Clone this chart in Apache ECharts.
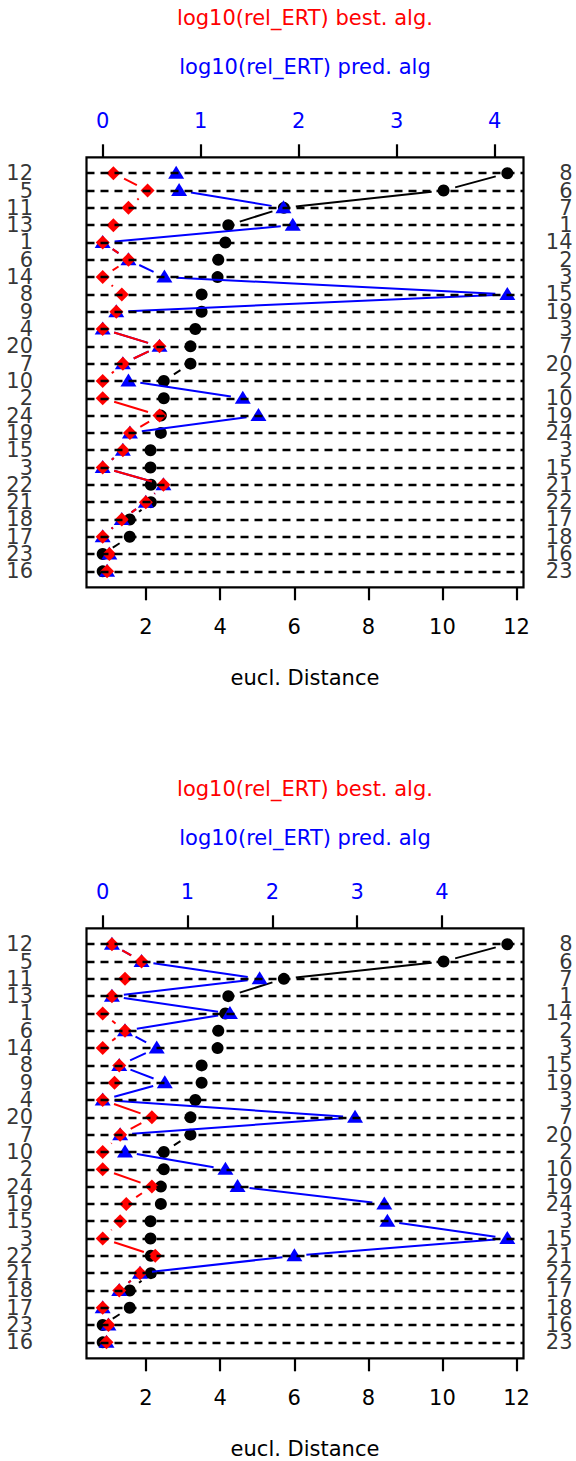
<!DOCTYPE html>
<html>
<head>
<meta charset="utf-8">
<script src="https://cdn.jsdelivr.net/npm/echarts@6/dist/echarts.min.js"></script>
<style>
html,body{margin:0;padding:0;background:#fff;}
#chart{width:576px;height:1461px;}
</style>
</head>
<body>
<div id="chart"></div>
<script>
// ---- data ----
const rowLabelsLeft  = ['12','5','11','13','1','6','14','8','9','4','20','7','10','2','24','19','15','3','22','21','18','17','23','16'];
const rowLabelsRight = ['8','6','7','1','14','2','3','15','19','3','7','20','2','10','19','24','3','15','21','22','17','18','16','23'];
const euclDist = [11.75, 10.03, 5.72, 4.22, 4.14, 3.95, 3.93, 3.50, 3.50, 3.33, 3.20, 3.20, 2.48, 2.48, 2.40, 2.40, 2.12, 2.12, 2.13, 2.13, 1.56, 1.56, 0.83, 0.83];
const bestAlg  = [0.109, 0.458, 0.263, 0.109, 0, 0.263, 0, 0.195, 0.139, 0, 0.58, 0.206, 0, 0, 0.58, 0.278, 0.206, 0, 0.62, 0.44, 0.195, 0, 0.068, 0.045];
const predAlg1 = [0.75, 0.78, 1.845, 1.94, 0, 0.263, 0.63, 4.13, 0.139, 0, 0.58, 0.206, 0.263, 1.43, 1.59, 0.278, 0.206, 0, 0.62, 0.44, 0.195, 0, 0.068, 0.045];
const predAlg2 = [0.109, 0.458, 1.85, 0.109, 1.50, 0.263, 0.637, 0.195, 0.732, 0, 2.975, 0.206, 0.263, 1.447, 1.59, 3.32, 3.356, 4.77, 2.26, 0.44, 0.195, 0, 0.068, 0.045];
const bottomTicks = [2, 4, 6, 8, 10, 12];
const topTicks = [0, 1, 2, 3, 4];
const titleBest = 'log10(rel_ERT) best. alg.';
const titlePred = 'log10(rel_ERT) pred. alg';
const xAxisTitle = 'eucl. Distance';

// ---- layout ----
const FONT = 'DejaVu Sans';
const FS = 21;
const GAP = 12;
const BOX_LEFT = 86.5, BOX_W = 437, BOX_H = 430;
const panelTops = [157.3, 928.3];
const nRows = rowLabelsLeft.length;
const rowIdx = rowLabelsLeft.map((_, i) => i + 1);

function ext(arrs) {
  const all = [].concat(...arrs);
  const lo = Math.min(...all), hi = Math.max(...all);
  const s = hi - lo;
  return { min: lo - 0.04 * s, max: hi + 0.04 * s };
}

const yExt = { min: 1 - 0.04 * (nRows - 1), max: nRows + 0.04 * (nRows - 1) };
const xBotExt = ext([euclDist]);

function segs(xs) {
  const out = [];
  for (let i = 0; i < xs.length - 1; i++) out.push([xs[i], i + 1, xs[i + 1], i + 2]);
  return out;
}
function pts(xs) { return xs.map((v, i) => [v, i + 1]); }

function gapLine(color) {
  return function (params, api) {
    const p1 = api.coord([api.value(0), api.value(1)]);
    const p2 = api.coord([api.value(2), api.value(3)]);
    const dx = p2[0] - p1[0], dy = p2[1] - p1[1];
    const L = Math.sqrt(dx * dx + dy * dy);
    if (L <= 2 * GAP) return null;
    const ux = dx / L, uy = dy / L;
    return {
      type: 'line',
      shape: { x1: p1[0] + ux * GAP, y1: p1[1] + uy * GAP, x2: p2[0] - ux * GAP, y2: p2[1] - uy * GAP },
      style: { stroke: color, lineWidth: 2 }
    };
  };
}

const grids = [], xAxes = [], yAxes = [], series = [], graphics = [];
const panels = [predAlg1, predAlg2];

panels.forEach((pred, p) => {
  const top = panelTops[p];
  grids.push({ left: BOX_LEFT, top: top, width: BOX_W, height: BOX_H, show: true, borderColor: '#000', borderWidth: 2.2, backgroundColor: 'transparent' });
  const xTopExt = ext([bestAlg, pred]);
  const xb = xAxes.length;
  xAxes.push({
    type: 'value', gridIndex: p, position: 'bottom', min: xBotExt.min, max: xBotExt.max,
    axisLine: { show: false }, splitLine: { show: false },
    axisTick: { show: true, length: 13, lineStyle: { color: '#000', width: 2.2 }, customValues: bottomTicks },
    axisLabel: { show: true, customValues: bottomTicks, margin: 29, color: '#000', fontFamily: FONT, fontSize: FS, formatter: v => String(v) }
  });
  xAxes.push({
    type: 'value', gridIndex: p, position: 'top', min: xTopExt.min, max: xTopExt.max,
    axisLine: { show: false }, splitLine: { show: false },
    axisTick: { show: true, length: 13, lineStyle: { color: '#000', width: 2.2 }, customValues: topTicks },
    axisLabel: { show: true, customValues: topTicks, margin: 26, color: '#0000FF', fontFamily: FONT, fontSize: FS, formatter: v => String(v) }
  });
  const yl = yAxes.length;
  const yCommon = {
    type: 'value', gridIndex: p, inverse: true, min: yExt.min, max: yExt.max,
    axisLine: { show: false }, splitLine: { show: false }, axisTick: { show: false }, axisLabel: { show: false }
  };
  yAxes.push(Object.assign({}, yCommon, { position: 'left' }));
  yAxes.push(Object.assign({}, yCommon, { position: 'right' }));
  // dashed row lines
  series.push({
    type: 'scatter', xAxisIndex: xb, yAxisIndex: yl, data: [], z: 1, silent: true,
    markLine: {
      silent: true, symbol: ['none', 'none'], animation: false,
      label: { show: false },
      lineStyle: { color: '#000', width: 2.3, type: [8, 6] },
      emphasis: { disabled: true },
      data: rowIdx.map(r => ({ yAxis: r }))
    }
  });
  // row labels (left and right of the box)
  series.push({
    type: 'scatter', xAxisIndex: xb, yAxisIndex: yl, silent: true, symbolSize: 0, clip: false, z: 1,
    data: rowIdx.map(r => [xBotExt.min, r]),
    label: { show: true, position: 'left', distance: 53.5, align: 'right', verticalAlign: 'middle',
      color: '#000', fontFamily: FONT, fontSize: FS, formatter: q => rowLabelsLeft[q.dataIndex] },
    labelLayout: { hideOverlap: false }
  });
  series.push({
    type: 'scatter', xAxisIndex: xb, yAxisIndex: yl, silent: true, symbolSize: 0, clip: false, z: 1,
    data: rowIdx.map(r => [xBotExt.max, r]),
    label: { show: true, position: 'right', distance: 49, align: 'right', verticalAlign: 'middle',
      color: '#000', fontFamily: FONT, fontSize: FS, formatter: q => rowLabelsRight[q.dataIndex] },
    labelLayout: { hideOverlap: false }
  });
  // black: eucl distance
  series.push({ type: 'custom', xAxisIndex: xb, yAxisIndex: yl, renderItem: gapLine('#000'), encode: { x: [0, 2], y: [1, 3] }, data: segs(euclDist), z: 2, silent: true });
  series.push({ type: 'scatter', xAxisIndex: xb, yAxisIndex: yl, data: pts(euclDist), symbol: 'circle', symbolSize: 12, itemStyle: { color: '#000', opacity: 1 }, z: 2, silent: true });
  // blue: pred alg
  series.push({ type: 'custom', xAxisIndex: xb + 1, yAxisIndex: yl, renderItem: gapLine('#0000FF'), encode: { x: [0, 2], y: [1, 3] }, data: segs(pred), z: 3, silent: true });
  series.push({ type: 'scatter', xAxisIndex: xb + 1, yAxisIndex: yl, data: pts(pred), symbol: 'triangle', symbolSize: [16, 13], symbolOffset: [0, -1], itemStyle: { color: '#0000FF', opacity: 1 }, z: 3, silent: true });
  // red: best alg
  series.push({ type: 'custom', xAxisIndex: xb + 1, yAxisIndex: yl, renderItem: gapLine('#FF0000'), encode: { x: [0, 2], y: [1, 3] }, data: segs(bestAlg), z: 4, silent: true });
  series.push({ type: 'scatter', xAxisIndex: xb + 1, yAxisIndex: yl, data: pts(bestAlg), symbol: 'diamond', symbolSize: [14, 14], itemStyle: { color: '#FF0000', opacity: 1 }, z: 4, silent: true });

  const off = top - 157.3;
  const cx = BOX_LEFT + BOX_W / 2;
  graphics.push({ type: 'text', x: cx, y: 18 + off, style: { text: titleBest, fill: '#FF0000', fontFamily: FONT, fontSize: FS, align: 'center', verticalAlign: 'middle' } });
  graphics.push({ type: 'text', x: cx, y: 67 + off, style: { text: titlePred, fill: '#0000FF', fontFamily: FONT, fontSize: FS, align: 'center', verticalAlign: 'middle' } });
  graphics.push({ type: 'text', x: cx, y: 678 + off, style: { text: xAxisTitle, fill: '#000', fontFamily: FONT, fontSize: FS, align: 'center', verticalAlign: 'middle' } });
});

const chart = echarts.init(document.getElementById('chart'), null, { renderer: 'svg' });
chart.setOption({
  animation: false,
  backgroundColor: '#fff',
  grid: grids,
  xAxis: xAxes,
  yAxis: yAxes,
  series: series,
  graphic: graphics
});
</script>
</body>
</html>
